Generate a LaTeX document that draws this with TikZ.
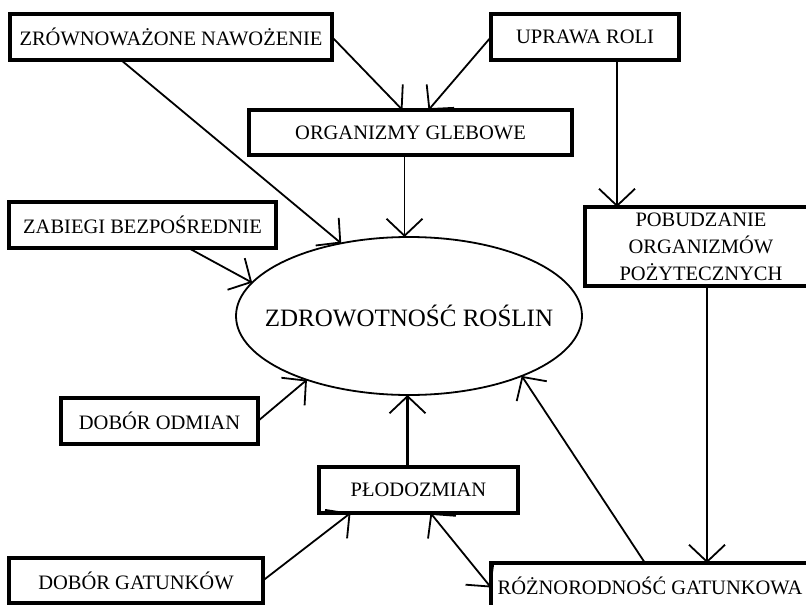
\documentclass[tikz,border=0pt]{standalone}
\usepackage{fontspec}
\setmainfont{Liberation Serif}
\usetikzlibrary{arrows.meta,shapes.geometric}
\begin{document}
\begin{tikzpicture}[x=1pt,y=-1pt,
  box/.style={draw,line width=3.2pt,rectangle,anchor=north west,inner sep=0pt,outer sep=0pt,align=center,font=\fontsize{20.5}{27}\selectfont},
  tipb/.tip={Straight Barb[length=17pt,width=36pt,line width=1.8pt]},
  arr/.style={line width=1.8pt,-tipb},
  darr/.style={line width=1.8pt,tipb-tipb},
  ]
\useasboundingbox[fill=white] (0,0) rectangle (806,605);
\node[box,minimum width=322pt,minimum height=46pt] (zn) at (10,14) {ZRÓWNOWAŻONE NAWOŻENIE};
\node[box,minimum width=188pt,minimum height=46pt] (ur) at (491,14) {UPRAWA ROLI};
\node[box,minimum width=323pt,minimum height=45pt] (og) at (249,110) {ORGANIZMY GLEBOWE};
\node[box,minimum width=267pt,minimum height=46pt] (zb) at (9,202) {ZABIEGI BEZPOŚREDNIE};
\node[box,minimum width=232pt,minimum height=79pt] (pob) at (585,207) {POBUDZANIE\\ORGANIZMÓW\\POŻYTECZNYCH};
\node[box,minimum width=197pt,minimum height=46pt] (do) at (61,398) {DOBÓR ODMIAN};
\node[box,minimum width=199pt,minimum height=46pt] (pl) at (319,467) {PŁODOZMIAN};
\node[box,minimum width=254pt,minimum height=45pt] (dg) at (9,558) {DOBÓR GATUNKÓW};
\node[box,minimum width=318pt,minimum height=45pt] (rg) at (491,563) {RÓŻNORODNOŚĆ GATUNKOWA};
\node[ellipse,draw,line width=1.8pt,minimum width=346pt,minimum height=158pt,inner sep=0pt,outer sep=0pt,font=\fontsize{25}{30}\selectfont] (zr) at (409,316) {\makebox[0pt]{ZDROWOTNOŚĆ ROŚLIN}};

\draw[arr] (zn.east) -- ([xshift=-8pt]og.north);
\draw[arr] ([xshift=-50pt]zn.south) -- (zr.133);
\draw[arr] (ur.west) -- ([xshift=18pt]og.north);
\draw[arr] ([xshift=-6pt]og.south) -- ([xshift=-6pt]og.south |- zr.north);
\draw[arr] ([xshift=32pt]ur.south) -- ([xshift=32pt]ur.south |- pob.north);
\draw[arr] ([xshift=6pt]pob.south) -- ([xshift=6pt]pob.south |- rg.north);
\draw[arr] ([xshift=46pt]zb.south) -- (zr.168);
\draw[arr] (do.east) -- (zr.212);
\draw[arr,line width=3.2pt] ([xshift=-11pt]pl.north) -- ([xshift=-11pt]pl.north |- zr.south);
\draw[arr] (dg.east) -- ([xshift=-68pt]pl.south);
\draw[darr] ([xshift=12pt]pl.south) -- ([yshift=-2pt]rg.west);
\draw[arr] ([xshift=-5pt]rg.north) -- (zr.332);
\end{tikzpicture}
\end{document}
